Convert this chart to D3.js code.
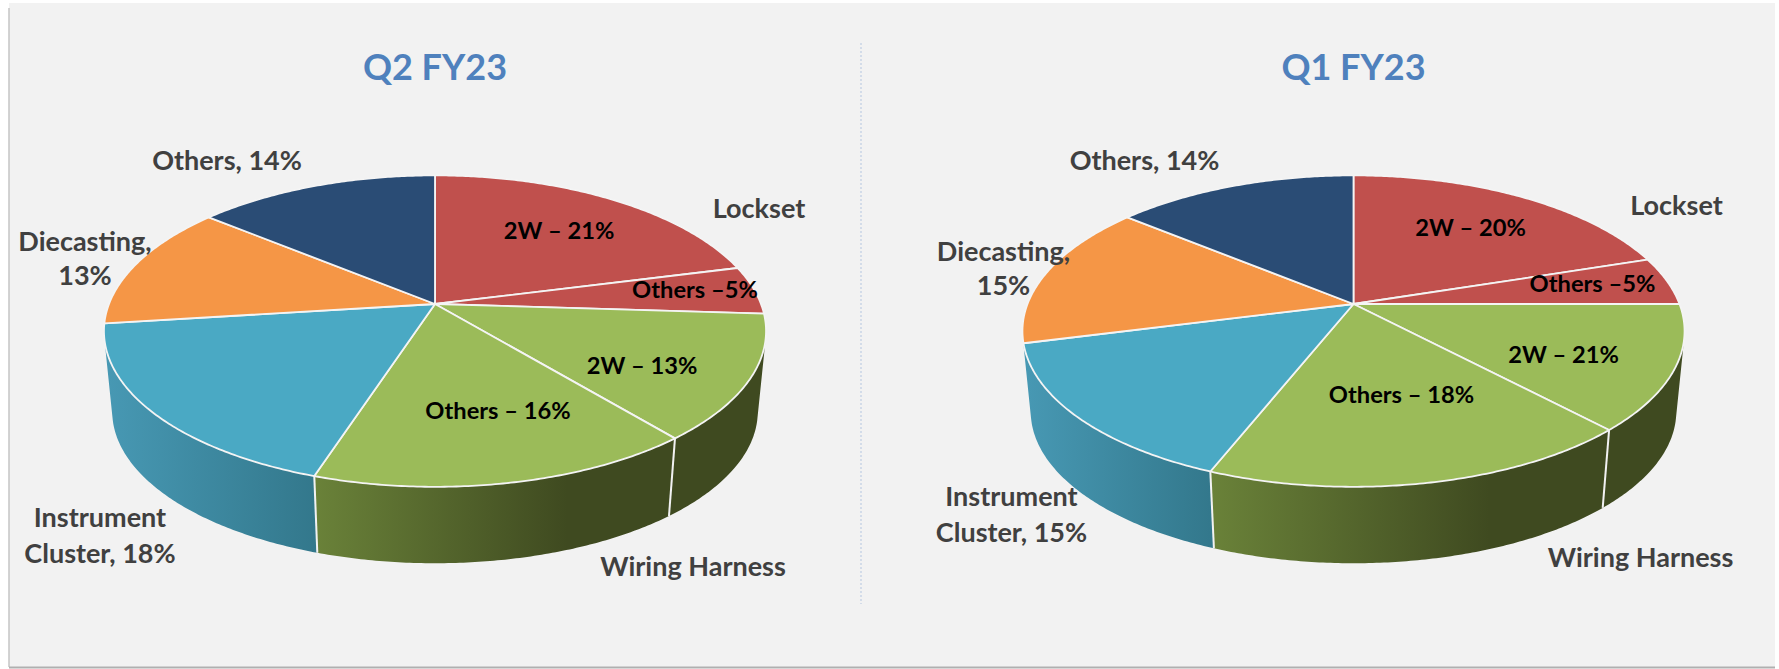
<html>
  <head>
    <meta charset="utf-8" />
    <script src="https://d3js.org/d3.v7.min.js"></script>
    <style>
      body { margin: 0; background: #fff; }
      text { font-family: Lato, "Open Sans", sans-serif; font-weight: 700; }
    </style>
  </head>
  <body>
    <div id="chart"></div>
    <script>
      // data
      const categories = ["Lockset 2W", "Lockset Others", "Wiring Harness 2W", "Wiring Harness Others",
                          "Instrument Cluster", "Diecasting", "Others"];
      const q2Values = [21, 5, 13, 16, 18, 13, 14];
      // the 3rd Q1 slice is drawn about 13% wide in the source although its label says 21%
      const q1Values = [20, 5, 13, 18, 15, 15, 14];
      const colors = ["#c0504d", "#c0504d", "#9bbb59", "#9bbb59", "#4aa9c4", "#f59646", "#2a4c75"];

      const q2Labels = ["Others, 14%", "Lockset", "2W – 21%", "Others –5%", "2W – 13%", "Others – 16%",
                        "Diecasting,", "13%", "Instrument", "Cluster, 18%", "Wiring Harness"];
      const q1Labels = ["Others, 14%", "Lockset", "2W – 20%", "Others –5%", "2W – 21%", "Others – 18%",
                        "Diecasting,", "15%", "Instrument", "Cluster, 15%", "Wiring Harness"];

      // label layout, same order as the label lists, offsets from the pie centre
      const q2Spots = [[-208,-134],[324,-86],[124,-65],[260,-6],[207,70],[63,115],
                       [-350,-53],[-350,-19],[-335,223],[-335,259],[258,272]];
      const q1Spots = [[-209,-134],[323,-89],[117,-68],[239,-12],[210,59],[48,99],
                       [-350,-43],[-350,-9],[-342,202],[-342,238],[287,263]];
      const insideLabels = [2, 3, 4, 5];

      const width = 1779, height = 669;
      const cy = 304, radius = 326, persp = 0.174, tilt = 151;
      const bottomScale = 0.975, wallDrop = 81;
      const wallFrom = 60 * Math.PI / 180, wallTo = 300 * Math.PI / 180;

      const svg = d3.select("#chart").append("svg")
        .attr("width", width)
        .attr("height", height);

      // panel
      svg.append("rect").attr("x", 9).attr("y", 3).attr("width", 1766).attr("height", 664).attr("fill", "#f2f2f2");
      svg.append("line").attr("x1", 9).attr("x2", 9).attr("y1", 8).attr("y2", 667)
        .attr("stroke", "#c4c4c4").attr("stroke-width", 1.5);
      svg.append("line").attr("x1", 9).attr("x2", 1775).attr("y1", 667.5).attr("y2", 667.5)
        .attr("stroke", "#b0b0b0").attr("stroke-width", 2);
      svg.append("line").attr("x1", 861).attr("x2", 861).attr("y1", 43).attr("y2", 604)
        .attr("stroke", "#b4c6e0").attr("stroke-width", 1).attr("stroke-dasharray", "2,2");

      const defs = svg.append("defs");
      const pie = d3.pie().sort(null).value(d => d);
      const line = d3.line();

      // circle point at an angle (clockwise from the back) seen in perspective
      function project(angle, cx) {
        const X = Math.sin(angle), Z = -Math.cos(angle);
        const s = 1 / (1 - persp * Z);
        return [cx + radius * X * s, cy + tilt * Z * s];
      }

      function projectBottom(angle, cx) {
        const p = project(angle, cx);
        return [cx + (p[0] - cx) * bottomScale, cy + (p[1] - cy) * bottomScale + wallDrop];
      }

      function samples(a0, a1) {
        const n = Math.max(2, Math.ceil((a1 - a0) / 0.01));
        return d3.range(n + 1).map(i => a0 + (a1 - a0) * i / n);
      }

      function gradient(id, x1, x2, stops) {
        const g = defs.append("linearGradient").attr("id", id)
          .attr("gradientUnits", "userSpaceOnUse")
          .attr("x1", x1).attr("x2", x2).attr("y1", 0).attr("y2", 0);
        stops.forEach(s => g.append("stop").attr("offset", s[0]).attr("stop-color", s[1]));
        return "url(#" + id + ")";
      }

      // one path of thin strips, all turning the same way so they add up without seams
      // (a single outline would twist where the two rims cross)
      function wallPath(a0, a1, cx) {
        return d3.pairs(samples(a0, a1)).map(d => {
          const quad = [project(d[0], cx), project(d[1], cx), projectBottom(d[1], cx), projectBottom(d[0], cx)];
          if (d3.polygonArea(quad) < 0) quad.reverse();
          return line(quad) + "Z";
        }).join("");
      }

      function drawPie(name, title, values, labels, spots, cx) {
        const group = svg.append("g");
        const arcs = pie(values);

        // side wall: only the three front slices show
        const a2 = arcs[2], a3 = arcs[3], a4 = arcs[4];
        const leftOf3 = project(a3.endAngle, cx)[0], rightOf3 = project(a3.startAngle, cx)[0];
        const rightOf4 = project(a4.startAngle, cx)[0];
        const fills = [
          [wallFrom, a2.endAngle, "#3f4a20"],
          [a3.startAngle, a3.endAngle, gradient(name + "Green", leftOf3, rightOf3,
            [[0, "#6a8239"], [0.7, "#3f4a20"], [1, "#3f4a20"]])],
          [a4.startAngle, wallTo, gradient(name + "Blue", cx - radius, rightOf4,
            [[0, "#4798b3"], [1, "#33788c"]])]
        ];
        fills.forEach(f => {
          group.append("path")
            .attr("d", wallPath(f[0], f[1], cx))
            .attr("fill", f[2]);
        });

        // seams on the wall
        [a2.endAngle, a3.endAngle].forEach(a => {
          group.append("path").attr("d", line([project(a, cx), projectBottom(a, cx)]))
            .attr("stroke", "#f2f2f2").attr("stroke-width", 2).attr("fill", "none");
        });

        // top face
        group.selectAll("path.face").data(arcs).enter().append("path")
          .attr("class", "face")
          .attr("d", d => line([[cx, cy]].concat(samples(d.startAngle, d.endAngle).map(a => project(a, cx)))) + "Z")
          .attr("fill", (d, i) => colors[i])
          .attr("stroke", "#f4f4f4")
          .attr("stroke-width", 1.8)
          .attr("stroke-linejoin", "round");

        group.append("text").text(title)
          .attr("x", cx).attr("y", 80)
          .attr("text-anchor", "middle")
          .attr("font-size", 36)
          .attr("fill", "#4f81bd");

        group.selectAll("text.lbl").data(labels).enter().append("text")
          .attr("class", "lbl")
          .text(d => d)
          .attr("x", (d, i) => cx + spots[i][0])
          .attr("y", (d, i) => cy + spots[i][1])
          .attr("text-anchor", "middle")
          .attr("font-size", (d, i) => insideLabels.includes(i) ? 23.7 : 27)
          .attr("fill", (d, i) => insideLabels.includes(i) ? "#000" : "#404040");
      }

      drawPie("q2", "Q2 FY23", q2Values, q2Labels, q2Spots, 435);
      drawPie("q1", "Q1 FY23", q1Values, q1Labels, q1Spots, 1353.5);
    </script>
  </body>
</html>
